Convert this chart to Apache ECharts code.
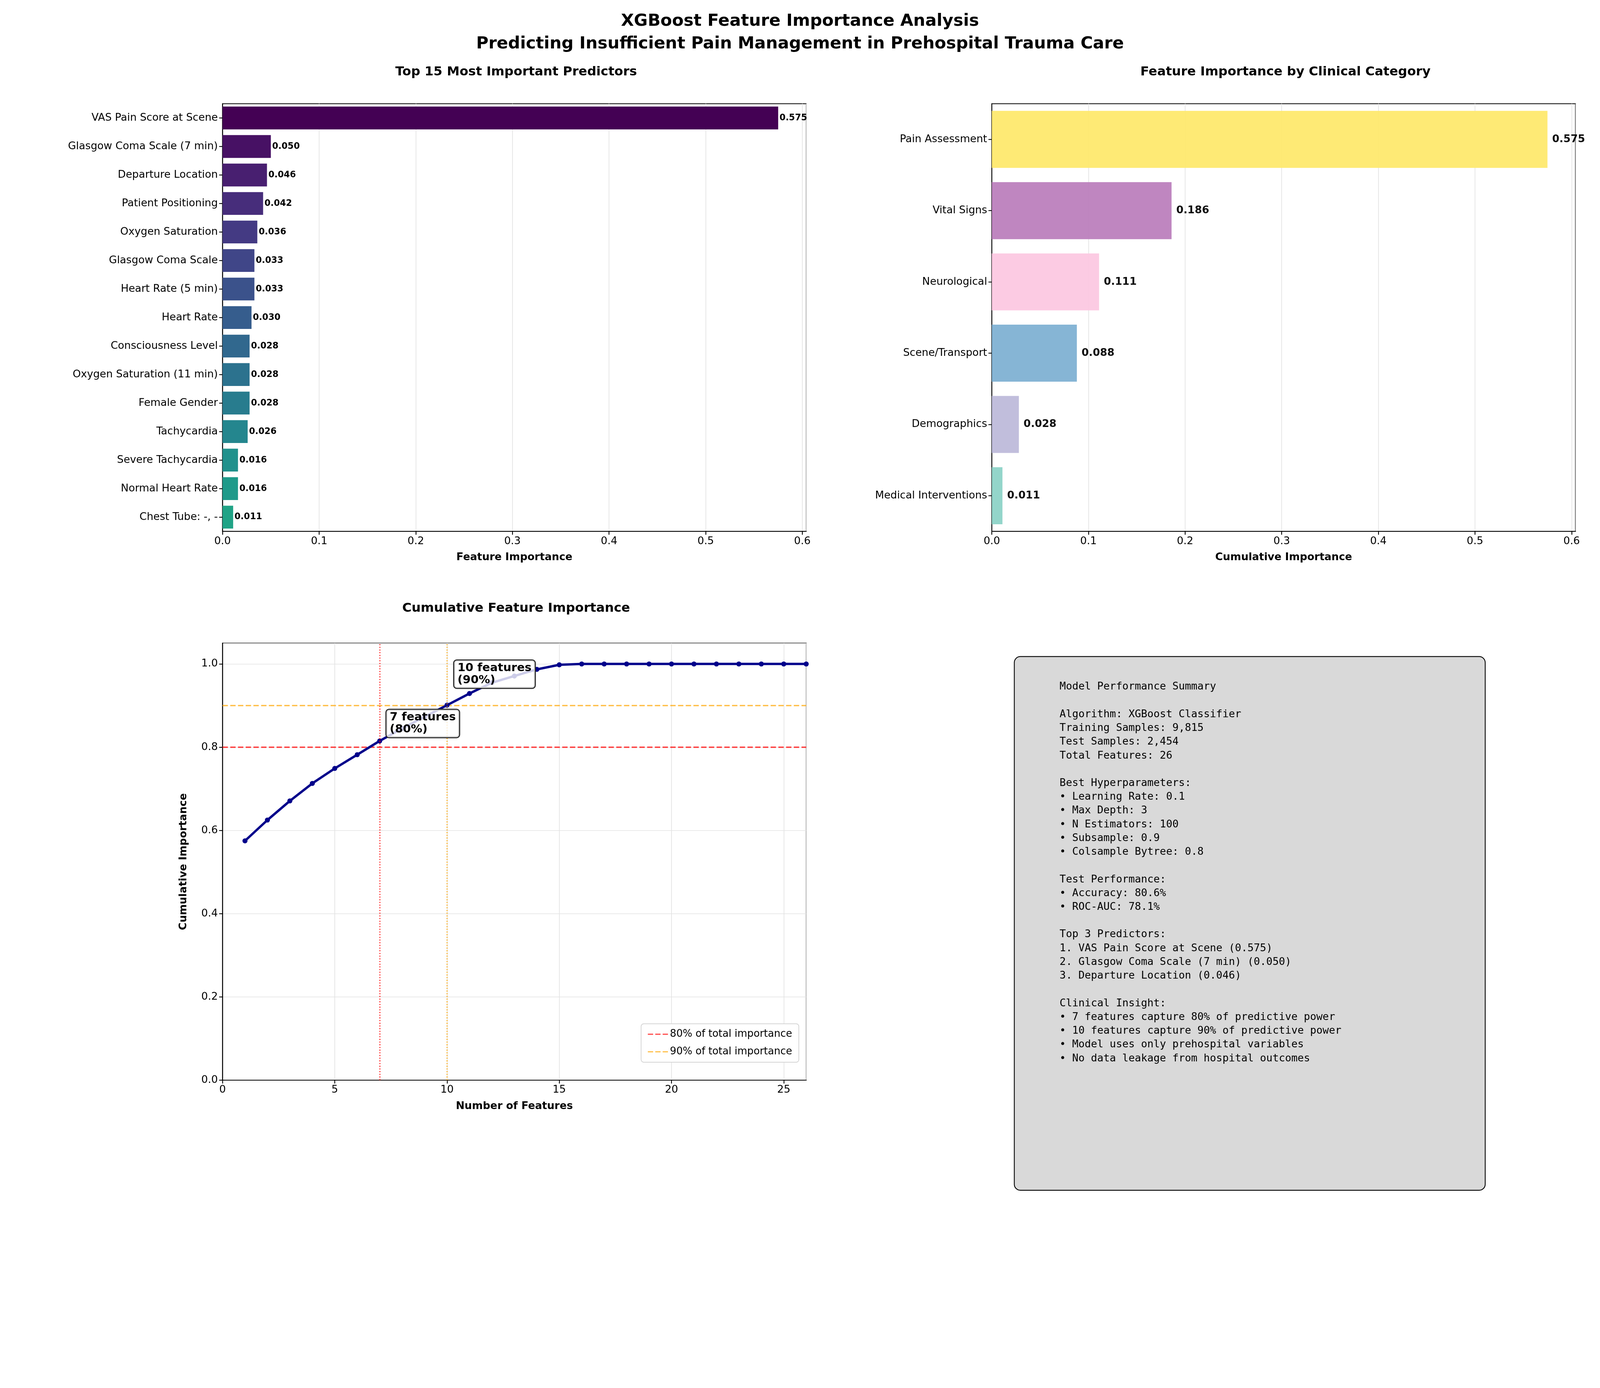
<!DOCTYPE html>
<html><head><meta charset="utf-8">
<script src="https://cdn.jsdelivr.net/npm/echarts@6/dist/echarts.min.js"></script>
<style>html,body{margin:0;padding:0;background:#fff;overflow:hidden}#c{width:100vw;height:100vh}</style>
</head><body><div id="c"></div>
<script>
const features = ['VAS Pain Score at Scene','Glasgow Coma Scale (7 min)','Departure Location','Patient Positioning','Oxygen Saturation','Glasgow Coma Scale','Heart Rate (5 min)','Heart Rate','Consciousness Level','Oxygen Saturation (11 min)','Female Gender','Tachycardia','Severe Tachycardia','Normal Heart Rate','Chest Tube: -, -'];
const importance = [0.575,0.050,0.046,0.042,0.036,0.033,0.033,0.030,0.028,0.028,0.028,0.026,0.016,0.016,0.011];
const barColors = ['#440154','#471164','#481f70','#472d7b','#443a83','#404688','#3b528b','#365d8d','#31688e','#2c728e','#287c8e','#24868e','#21918c','#1f9a8a','#20a386'];
const categories = ['Pain Assessment','Vital Signs','Neurological','Scene/Transport','Demographics','Medical Interventions'];
const categoryImportance = [0.575,0.186,0.111,0.088,0.028,0.011];
const categoryColors = ['#fee96e','#bc80bd','#fcc8e2','#80b1d3','#bebada','#8dd3c7'];
const numFeatures = [1,2,3,4,5,6,7,8,9,10,11,12,13,14,15,16,17,18,19,20,21,22,23,24,25,26];
const cumulative = [0.575,0.625,0.671,0.713,0.749,0.782,0.815,0.845,0.873,0.901,0.929,0.955,0.971,0.987,0.998,1,1,1,1,1,1,1,1,1,1,1];
const summary = ['Model Performance Summary','','Algorithm: XGBoost Classifier','Training Samples: 9,815','Test Samples: 2,454','Total Features: 26','','Best Hyperparameters:','• Learning Rate: 0.1','• Max Depth: 3','• N Estimators: 100','• Subsample: 0.9','• Colsample Bytree: 0.8','','Test Performance:','• Accuracy: 80.6%','• ROC-AUC: 78.1%','','Top 3 Predictors:','1. VAS Pain Score at Scene (0.575)','2. Glasgow Coma Scale (7 min) (0.050)','3. Departure Location (0.046)','','Clinical Insight:','• 7 features capture 80% of predictive power','• 10 features capture 90% of predictive power','• Model uses only prehospital variables','• No data leakage from hospital outcomes'];

const dom = document.getElementById('c');
const s = dom.clientWidth / 4767;
const k = v => v * s;
const F = 'DejaVu Sans';
const axLine = {show:true,lineStyle:{color:'#000',width:k(2.5)}};
const tick = {show:true,length:k(10),lineStyle:{color:'#000',width:k(2.5)}};
const split = {show:true,lineStyle:{color:'#e3e3e3',width:k(2)}};
const valX = (name) => ({type:'value',min:0,max:0.604,interval:0.1,name:name,nameLocation:'middle',nameGap:k(62),
  nameTextStyle:{fontFamily:F,fontSize:k(31),fontWeight:'bold',color:'#000'},
  axisLine:axLine,axisTick:tick,splitLine:split,
  axisLabel:{fontFamily:F,fontSize:k(31),color:'#000',margin:k(14),showMaxLabel:false,formatter:v=>v.toFixed(1)}});
const catY = (data) => ({type:'category',data:data,inverse:true,axisLine:axLine,
  axisTick:Object.assign({alignWithLabel:true},tick),
  axisLabel:{fontFamily:F,fontSize:k(31),color:'#000',margin:k(14)},splitLine:{show:false}});
const dash = 'path://M0,0H5V1H0ZM7,0H12V1H7ZM14,0H19V1H14Z';

const chart = echarts.init(dom);
chart.setOption({
  backgroundColor:'#fff',
  animation:false,
  title:[
    {text:'XGBoost Feature Importance Analysis\nPredicting Insufficient Pain Management in Prehospital Trauma Care',left:'center',top:k(24),
     textStyle:{fontFamily:F,fontSize:k(50),fontWeight:'bold',color:'#000',lineHeight:k(68)}},
    {text:'Top 15 Most Important Predictors',left:k(1532),top:k(190),textAlign:'center',textStyle:{fontFamily:F,fontSize:k(38),fontWeight:'bold',color:'#000'}},
    {text:'Feature Importance by Clinical Category',left:k(3824),top:k(190),textAlign:'center',textStyle:{fontFamily:F,fontSize:k(38),fontWeight:'bold',color:'#000'}},
    {text:'Cumulative Feature Importance',left:k(1532),top:k(1788),textAlign:'center',textStyle:{fontFamily:F,fontSize:k(38),fontWeight:'bold',color:'#000'}}
  ],
  grid:[
    {left:k(663),width:k(1739),top:k(309),height:k(1274),show:true,borderColor:'#000',borderWidth:k(2.5)},
    {left:k(2955),width:k(1739),top:k(309),height:k(1274),show:true,borderColor:'#000',borderWidth:k(2.5)},
    {left:k(663),width:k(1739),top:k(1916),height:k(1302),show:true,borderColor:'#000',borderWidth:k(2.5)}
  ],
  xAxis:[
    Object.assign(valX('Feature Importance'),{gridIndex:0}),
    Object.assign(valX('Cumulative Importance'),{gridIndex:1}),
    {gridIndex:2,type:'value',min:0,max:26,interval:5,name:'Number of Features',nameLocation:'middle',nameGap:k(62),
     nameTextStyle:{fontFamily:F,fontSize:k(31),fontWeight:'bold',color:'#000'},axisLine:axLine,axisTick:tick,splitLine:split,
     axisLabel:{fontFamily:F,fontSize:k(31),color:'#000',margin:k(14),showMaxLabel:false}}
  ],
  yAxis:[
    Object.assign(catY(features),{gridIndex:0}),
    Object.assign(catY(categories),{gridIndex:1}),
    {gridIndex:2,type:'value',min:0,max:1.05,interval:0.2,name:'Cumulative Importance',nameLocation:'middle',nameGap:k(100),
     nameTextStyle:{fontFamily:F,fontSize:k(31),fontWeight:'bold',color:'#000'},axisLine:axLine,axisTick:tick,splitLine:split,
     axisLabel:{fontFamily:F,fontSize:k(31),color:'#000',margin:k(14),showMaxLabel:false,formatter:v=>v.toFixed(1)}}
  ],
  legend:{data:[{name:'80% of total importance',icon:dash},{name:'90% of total importance',icon:dash}],
    orient:'vertical',right:k(4767-2380),top:k(3050),
    itemWidth:k(60),itemHeight:k(5),itemGap:k(22),padding:[k(16),k(20)],backgroundColor:'#fff',borderColor:'#d0d0d0',borderWidth:k(2),borderRadius:k(8),
    textStyle:{fontFamily:F,fontSize:k(30),color:'#000'}},
  series:[
    {type:'bar',xAxisIndex:0,yAxisIndex:0,barWidth:'80%',
     data:importance.map((v,i)=>({value:v,itemStyle:{color:barColors[i]}})),
     label:{show:true,position:'right',distance:k(4),fontFamily:F,fontSize:k(26),fontWeight:'bold',color:'#000',formatter:p=>p.value.toFixed(3)}},
    {type:'bar',xAxisIndex:1,yAxisIndex:1,barWidth:'80%',
     data:categoryImportance.map((v,i)=>({value:v,itemStyle:{color:categoryColors[i],opacity:0.95}})),
     label:{show:true,position:'right',distance:k(14),fontFamily:F,fontSize:k(31),fontWeight:'bold',color:'#000',formatter:p=>p.value.toFixed(3)}},
    {name:'80% of total importance',type:'line',xAxisIndex:2,yAxisIndex:2,data:[[0,0.8],[26,0.8]],showSymbol:false,
     lineStyle:{color:'rgba(255,0,0,0.75)',width:k(4),type:[k(16),k(7)]},itemStyle:{color:'rgba(255,0,0,0.75)'},
     markLine:{silent:true,symbol:'none',label:{show:false},lineStyle:{color:'rgba(255,0,0,0.75)',width:k(4),type:[k(3),k(5)]},data:[{xAxis:7}]}},
    {name:'90% of total importance',type:'line',xAxisIndex:2,yAxisIndex:2,data:[[0,0.9],[26,0.9]],showSymbol:false,
     lineStyle:{color:'rgba(255,165,0,0.75)',width:k(4),type:[k(16),k(7)]},itemStyle:{color:'rgba(255,165,0,0.75)'},
     markLine:{silent:true,symbol:'none',label:{show:false},lineStyle:{color:'rgba(255,165,0,0.75)',width:k(4),type:[k(3),k(5)]},data:[{xAxis:10}]}},
    {name:'cum',type:'line',xAxisIndex:2,yAxisIndex:2,data:numFeatures.map((n,i)=>[n,cumulative[i]]),
     symbol:'circle',symbolSize:k(15),lineStyle:{color:'#00008b',width:k(7)},itemStyle:{color:'#00008b'},z:3,
     markPoint:{symbol:'circle',symbolSize:0,z:10,
      label:{show:true,position:'right',distance:0,fontFamily:F,fontSize:k(34),fontWeight:'bold',color:'#000',lineHeight:k(36),
        backgroundColor:'rgba(255,255,255,0.8)',borderColor:'#222',borderWidth:k(3),borderRadius:k(8),padding:[k(6),k(10),k(4),k(10)]},
      data:[{coord:[7.3,0.857],value:'7 features\n(80%)',label:{formatter:'7 features\n(80%)'}},
            {coord:[10.3,0.9755],value:'10 features\n(90%)',label:{formatter:'10 features\n(90%)'}}]}}
  ],
  graphic:[
    {type:'rect',shape:{x:k(3022),y:k(1956),width:k(1403),height:k(1590),r:k(18)},style:{fill:'#d9d9d9',stroke:'#000',lineWidth:k(2.5)}},
    {type:'text',left:k(3157),top:k(2026),style:{text:summary.join('\n'),fontFamily:'DejaVu Sans Mono',fontSize:k(31),lineHeight:k(41),fill:'#000'}}
  ]
});
</script></body></html>
